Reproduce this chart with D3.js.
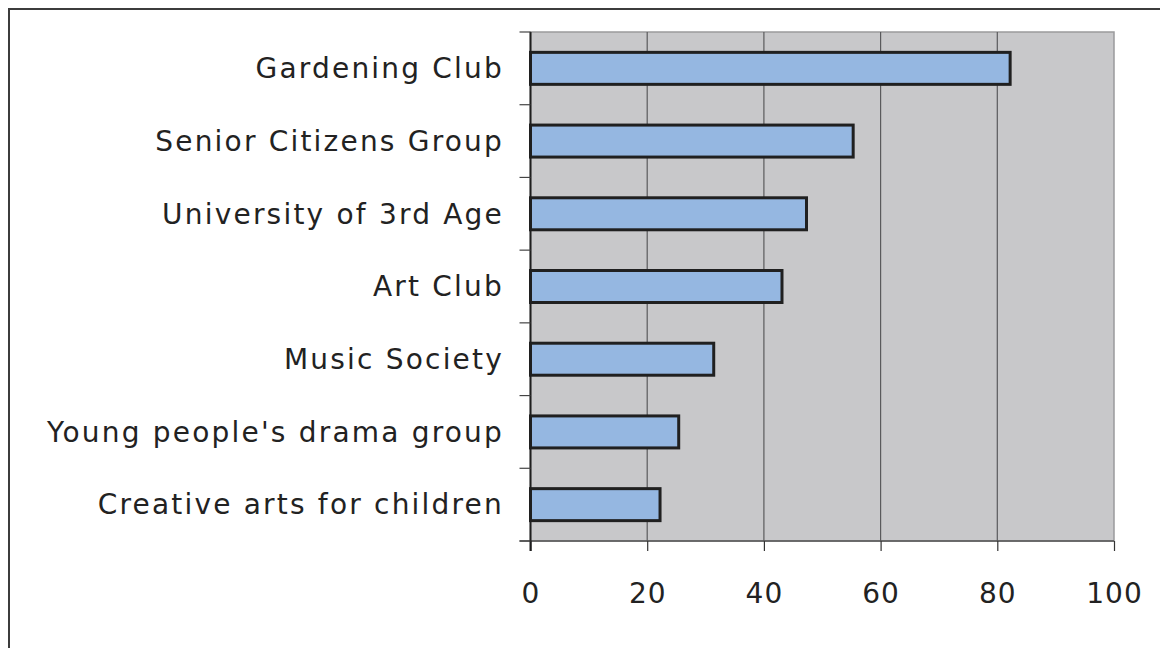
<!DOCTYPE html>
<html>
<head>
<meta charset="utf-8">
<script src="https://cdn.jsdelivr.net/npm/d3@7"></script>
<style>
  html, body { margin: 0; padding: 0; background: #ffffff; }
  svg { display: block; }
</style>
</head>
<body>
<svg id="chart" width="1160" height="648"></svg>
<script>
const categories = [
  "Gardening Club",
  "Senior Citizens Group",
  "University of 3rd Age",
  "Art Club",
  "Music Society",
  "Young people's drama group",
  "Creative arts for children"
];
const values = [82.2, 55.3, 47.3, 43.1, 31.4, 25.4, 22.2];
const xTicks = [0, 20, 40, 60, 80, 100];

const svg = d3.select("#chart");
const plot = { left: 530.5, right: 1114, top: 32, bottom: 541 };

// outer frame (left and top edges visible)
svg.append("rect")
  .attr("x", 9).attr("y", 9)
  .attr("width", 1200).attr("height", 700)
  .attr("fill", "#ffffff")
  .attr("stroke", "#3c3c3c").attr("stroke-width", 2);

const x = d3.scaleLinear().domain([0, 100]).range([plot.left, plot.right]);
const y = d3.scaleBand().domain(categories).range([plot.top, plot.bottom]).paddingInner(0.56).paddingOuter(0.28);
const yBand = d3.scaleBand().domain(categories).range([plot.top, plot.bottom]);

// plot background
svg.append("rect")
  .attr("x", plot.left).attr("y", plot.top)
  .attr("width", plot.right - plot.left).attr("height", plot.bottom - plot.top)
  .attr("fill", "#c8c8ca")
  .attr("stroke", "#9a9a9c").attr("stroke-width", 1.5);

// gridlines
svg.append("g").selectAll("line")
  .data(xTicks.filter(d => d > 0 && d < 100))
  .join("line")
  .attr("x1", d => x(d)).attr("x2", d => x(d))
  .attr("y1", plot.top).attr("y2", plot.bottom)
  .attr("stroke", "#5a5a5c").attr("stroke-width", 1.2);

// bars
svg.append("g").selectAll("rect")
  .data(categories)
  .join("rect")
  .attr("x", x(0))
  .attr("y", d => y(d))
  .attr("width", (d, i) => x(values[i]) - x(0))
  .attr("height", y.bandwidth())
  .attr("fill", "#95b7e1")
  .attr("stroke", "#202020").attr("stroke-width", 3);

// x axis
const xAxis = d3.axisBottom(x).tickValues(xTicks).tickSize(10).tickPadding(32).tickFormat(d3.format("d"));
const gx = svg.append("g").attr("transform", `translate(0,${plot.bottom})`).call(xAxis);
gx.select(".domain").attr("stroke", "#555").attr("stroke-width", 1.5).attr("d", `M${plot.left - 11},0H${plot.right}`);
gx.selectAll(".tick line").attr("stroke", "#333").attr("stroke-width", 1.2);
gx.selectAll(".tick text")
  .attr("fill", "#222")
  .attr("font-family", "'DejaVu Sans', sans-serif")
  .attr("font-size", 28)
  .attr("letter-spacing", "1px");

// y axis line
svg.append("line")
  .attr("x1", plot.left).attr("x2", plot.left)
  .attr("y1", plot.top).attr("y2", plot.bottom + 10)
  .attr("stroke", "#1e1e1e").attr("stroke-width", 2);

// y ticks at band boundaries
const boundaries = categories.map(c => yBand(c)).concat([plot.bottom]);
svg.append("g").selectAll("line")
  .data(boundaries)
  .join("line")
  .attr("x1", plot.left - 11).attr("x2", plot.left)
  .attr("y1", d => d).attr("y2", d => d)
  .attr("stroke", "#444").attr("stroke-width", 1.2);

// category labels
svg.append("g").selectAll("text")
  .data(categories)
  .join("text")
  .attr("x", 504)
  .attr("y", d => yBand(d) + yBand.bandwidth() / 2)
  .attr("dy", "0.35em")
  .attr("text-anchor", "end")
  .attr("fill", "#222")
  .attr("font-family", "'DejaVu Sans', sans-serif")
  .attr("font-size", 28)
  .attr("letter-spacing", "2.2px")
  .text(d => d);
</script>
</body>
</html>
